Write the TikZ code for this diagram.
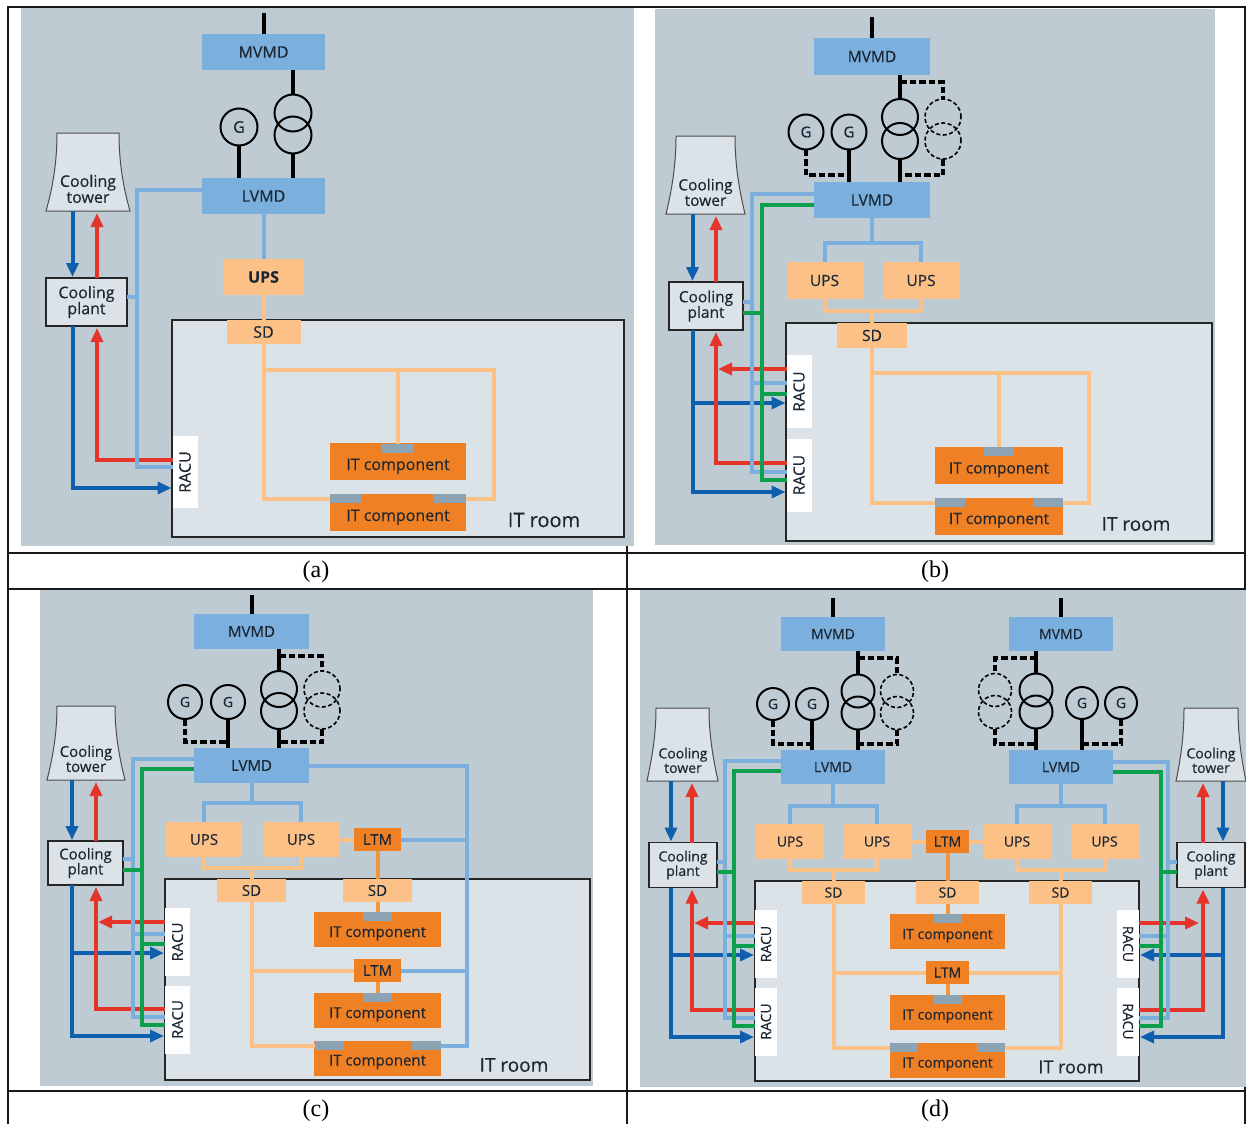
\documentclass[tikz,border=0pt]{standalone}
\usepackage{fontspec}
\usepackage{graphicx}
\setmainfont[FakeBold=0.35]{Open Sans}
\newfontfamily\capfont{Liberation Serif}
\usetikzlibrary{arrows.meta}

\definecolor{panelgrey}{HTML}{BECBD3}
\definecolor{roomgrey}{HTML}{DBE3E9}
\definecolor{busblue}{HTML}{7AAFDE}
\definecolor{upspeach}{HTML}{FBC187}
\definecolor{itorange}{HTML}{F08024}
\definecolor{ltmline}{HTML}{F0963C}
\definecolor{tabgrey}{HTML}{8BA3B3}
\definecolor{coldblue}{HTML}{0F5FAF}
\definecolor{hotred}{HTML}{E5352B}
\definecolor{railgreen}{HTML}{0E9F4D}
\definecolor{inktext}{HTML}{1C2733}

\tikzset{
    rule/.style={line width=2pt, black!90},
    panel/.style={fill=panelgrey},
    room/.style={fill=roomgrey, draw=black!85, line width=1.6pt},
    busbar/.style={fill=busblue},
    upsbox/.style={fill=upspeach},
    sdbox/.style={fill=upspeach},
    ltmbox/.style={fill=itorange},
    itbox/.style={fill=itorange},
    tabbox/.style={fill=tabgrey},
    plantbox/.style={fill=roomgrey, draw=black!85, line width=1.6pt, align=center},
    towerline/.style={fill=roomgrey, draw=black!70, line width=1pt},
    towertext/.style={align=center, anchor=south, minimum width=60pt, inner ysep=8pt},
    racu/.style={fill=white},
    gen/.style={circle, draw=black, line width=2pt, fill=none},
    coil/.style={circle, draw=black, line width=2pt, fill=none},
    sparecoil/.style={circle, draw=black, line width=1.6pt, dash pattern=on 4pt off 2.5pt, fill=none},
    mains/.style={draw=black, line width=4pt},
    standby/.style={draw=black, line width=3.6pt, dash pattern=on 6.5pt off 3pt},
    feed/.style={draw=busblue, line width=4pt},
    power/.style={draw=upspeach, line width=4pt},
    ltmfeed/.style={draw=ltmline, line width=4pt},
    rail/.style={draw=railgreen, line width=4pt},
    cold/.style={draw=coldblue, line width=4pt, -{Triangle[length=14pt,width=12pt]}, shorten >=1pt},
    hot/.style={draw=hotred, line width=3.8pt, -{Triangle[length=14pt,width=12pt]}, shorten >=2pt},
    roomlabel/.style={anchor=center},
    caption/.style={font=\capfont\fontsize{24}{24}\selectfont, text=black},
}

\begin{document}
\begin{tikzpicture}[x=1pt, y=-1pt, every node/.style={inner sep=0pt, outer sep=0pt, text=inktext}]
    \useasboundingbox (0,0) rectangle (1246,1124);

    % Table rules and captions
    \draw[rule] (8,1124) -- (8,7) -- (1245,7) -- (1245,1124);
    \draw[rule] (8,553) -- (1245,553);
    \draw[rule] (8,589) -- (1245,589);
    \draw[rule] (8,1091) -- (1245,1091);
    \draw[rule] (627,7) -- (627,1124);
    \node[caption] (capA) at (316,572) {(a)};
    \node[caption] (capB) at (935,572) {(b)};
    \node[caption] (capC) at (316,1111) {(c)};
    \node[caption] (capD) at (935,1111) {(d)};

    % Panel (a)
    \begin{scope}[every node/.append style={font=\fontsize{16}{16}\selectfont},
        busbar/.append style={minimum width=123pt, minimum height=36pt},
        plantbox/.append style={minimum width=81pt, minimum height=48pt},
        gen/.append style={minimum size=37pt}, coil/.append style={minimum size=37pt},
        racu/.append style={minimum width=25pt, minimum height=72pt},
        itbox/.append style={minimum width=136pt, minimum height=37pt},
        tabbox/.append style={minimum width=32pt, minimum height=9pt}]
    \fill[panel] (21,8) rectangle (634,546);
    \node[room, minimum width=452pt, minimum height=217pt] (roomA) at (398,428.5) {};
    \node[busbar] (mvmdA) at (263.5,52) {MVMD};
    \node[busbar] (lvmdA) at (263.5,196) {LVMD};
    \node[coil] (coilA1) at (293,113) {};
    \node[coil] (coilA2) at (293,135) {};
    \node[gen, font=\fontsize{16}{16}\selectfont] (genA) at (239,127) {G};
    \node[upsbox, minimum width=81pt, minimum height=36pt, font=\fontsize{16}{16}\selectfont\bfseries] (upsA) at (263.5,277) {UPS};
    \node[sdbox, minimum width=74pt, minimum height=24pt] (sdA) at (263.5,332) {SD};
    \node[itbox] (itA1) at (398,461.5) {\raisebox{-8.5pt}[0pt][0pt]{IT component}};
    \node[itbox] (itA2) at (398,512.5) {\raisebox{-8.5pt}[0pt][0pt]{IT component}};
    \node[tabbox] (tabA1) at (398,448) {};
    \node[tabbox] (tabA2) at (346,498.5) {};
    \node[tabbox] (tabA3) at (450,498.5) {};
    \node[racu] (racuA) at (185,472) {\rotatebox{90}{RACU}};
    \node[plantbox] (plantA) at (86.5,302) {Cooling\\plant};
    \draw[towerline] (57,133) -- (119,133) .. controls (119,165) and (124,190) .. (130,211)
        -- (46,211) .. controls (52,190) and (57,165) .. (57,133) -- cycle;
    \node[towertext] (towerA) at (88,211) {Cooling\\tower};
    \node[roomlabel, font=\fontsize{20}{20}\selectfont] (labelA) at (544,520) {IT room};

    \coordinate (coldA) at ([xshift=-14pt]plantA.center);
    \coordinate (hotA) at ([xshift=10.5pt]plantA.center);
    \coordinate (feedA) at (137,190);
    \coordinate (loopA) at (494,370);

    % Supply lines
    \draw[mains] (mvmdA.north) -- ++(0,-21);
    \draw[mains] (mvmdA.south -| coilA1.north) -- (coilA1.north);
    \draw[mains] (coilA2.south) -- (coilA2.south |- lvmdA.north);
    \draw[mains] (genA.south) -- (genA.south |- lvmdA.north);
    \draw[feed] (lvmdA.south) -- (upsA.north);
    \draw[power] (upsA.south) -- (sdA.north);
    \draw[power] (sdA.south) |- (tabA2.west);
    \draw[power] (sdA.south) |- (loopA) |- (tabA3.east);
    \draw[power] (tabA1.north) -- (tabA1.north |- loopA);

    % Cooling loops
    \draw[cold] (coldA |- towerA.south) -- (coldA |- plantA.north);
    \draw[hot] (hotA |- plantA.north) -- (hotA |- towerA.south);
    \draw[cold] (coldA |- plantA.south) |- ([yshift=-16pt]racuA.west);
    \draw[hot] ([yshift=12pt]racuA.west) -| (hotA |- plantA.south);
    \draw[feed] (lvmdA.west |- feedA) -- (feedA) |- ([yshift=5pt]racuA.west);
    \draw[feed] (feedA) |- ([yshift=5pt]plantA.east);
    \end{scope}

    % Panel (b)
    \begin{scope}[every node/.append style={font=\fontsize{15.5}{15.5}\selectfont},
        busbar/.append style={minimum width=116pt, minimum height=36pt},
        plantbox/.append style={minimum width=74pt, minimum height=48pt},
        gen/.append style={minimum size=35pt}, coil/.append style={minimum size=36pt},
        sparecoil/.append style={minimum size=36pt},
        racu/.append style={minimum width=25pt, minimum height=73pt},
        upsbox/.append style={minimum width=76pt, minimum height=37pt},
        itbox/.append style={minimum width=128pt, minimum height=37pt},
        tabbox/.append style={minimum width=30pt, minimum height=9pt}]
    \fill[panel] (655,9) rectangle (1215,545);
    \node[room, minimum width=426pt, minimum height=218pt] (roomB) at (999,432) {};
    \node[busbar] (mvmdB) at (872,56.5) {MVMD};
    \node[busbar] (lvmdB) at (872,200) {LVMD};
    \node[coil] (coilB1) at (900,117) {};
    \node[coil] (coilB2) at (900,141) {};
    \node[sparecoil] (coilB3) at (943,117) {};
    \node[sparecoil] (coilB4) at (943,141) {};
    \node[gen, font=\fontsize{15}{15}\selectfont] (genB1) at (806,132) {G};
    \node[gen, font=\fontsize{15}{15}\selectfont] (genB2) at (849,132) {G};
    \node[upsbox] (upsB1) at (824.5,280.5) {UPS};
    \node[upsbox] (upsB2) at (921,280.5) {UPS};
    \node[sdbox, minimum width=70pt, minimum height=25pt] (sdB) at (872,335.5) {SD};
    \node[itbox] (itB1) at (999,465.5) {\raisebox{-8pt}[0pt][0pt]{IT component}};
    \node[itbox] (itB2) at (999,516) {\raisebox{-8pt}[0pt][0pt]{IT component}};
    \node[tabbox] (tabB1) at (999,451.5) {};
    \node[tabbox] (tabB2) at (950,502.5) {};
    \node[tabbox] (tabB3) at (1048,502.5) {};
    \node[racu] (racuB1) at (799,391.5) {\rotatebox{90}{RACU}};
    \node[racu] (racuB2) at (799,475) {\rotatebox{90}{RACU}};
    \node[plantbox] (plantB) at (706,306) {Cooling\\plant};
    \draw[towerline] (676,136) -- (735,136) .. controls (735,168) and (740,193) .. (745,214)
        -- (666,214) .. controls (671,193) and (676,168) .. (676,136) -- cycle;
    \node[towertext] (towerB) at (705.5,214) {Cooling\\tower};
    \node[roomlabel, font=\fontsize{19}{19}\selectfont] (labelB) at (1136,524) {IT room};

    \coordinate (coldB) at ([xshift=-13.5pt]plantB.center);
    \coordinate (hotB) at ([xshift=10pt]plantB.center);
    \coordinate (feedB) at (752,194);
    \coordinate (railB) at (762,205);
    \coordinate (splitB) at (872,243);
    \coordinate (mergeB) at (872,311);
    \coordinate (topB) at (900,82);
    \coordinate (lowB) at (900,175);
    \coordinate (loopB) at (1089,373);

    % Supply lines
    \draw[mains] (mvmdB.north) -- ++(0,-21);
    \draw[mains] (mvmdB.south -| coilB1.north) -- (coilB1.north);
    \draw[mains] (coilB2.south) -- (coilB2.south |- lvmdB.north);
    \draw[mains] (genB2.south) -- (genB2.south |- lvmdB.north);
    \draw[standby] (topB) -| (coilB3.north);
    \draw[standby] (coilB4.south) |- (lowB);
    \draw[standby] (genB1.south) |- (genB2.south |- lowB);
    \draw[feed] (lvmdB.south) -- (splitB);
    \draw[feed] (splitB) -| (upsB1.north);
    \draw[feed] (splitB) -| (upsB2.north);
    \draw[power] (upsB1.south) |- (mergeB);
    \draw[power] (upsB2.south) |- (mergeB);
    \draw[power] (mergeB) -- (sdB.north);
    \draw[power] (sdB.south) |- (tabB2.west);
    \draw[power] (sdB.south) |- (loopB) |- (tabB3.east);
    \draw[power] (tabB1.north) -- (tabB1.north |- loopB);

    % Cooling loops
    \draw[cold] (coldB |- towerB.south) -- (coldB |- plantB.north);
    \draw[hot] (hotB |- plantB.north) -- (hotB |- towerB.south);
    \draw[cold] (coldB |- plantB.south) |- ([yshift=-17pt]racuB2.west);
    \draw[cold] (coldB |- plantB.south) |- ([yshift=-11.5pt]racuB1.west);
    \draw[hot] ([yshift=12pt]racuB2.west) -| (hotB |- plantB.south);
    \draw[hot] ([yshift=22.5pt]racuB1.west) -- ([yshift=22.5pt]racuB1.west -| hotB);
    \draw[feed] (lvmdB.west |- feedB) -- (feedB) |- ([yshift=3pt]racuB2.west);
    \draw[feed] (feedB) |- ([yshift=8.5pt]racuB1.west);
    \draw[feed] (feedB) |- ([yshift=4pt]plantB.east);
    \draw[rail] (lvmdB.west |- railB) -- (railB) |- ([yshift=-5pt]racuB2.west);
    \draw[rail] (railB) |- ([yshift=-2.5pt]racuB1.west);
    \draw[rail] (railB) |- ([yshift=-7pt]plantB.east);
    \end{scope}

    % Panel (c)
    \begin{scope}[every node/.append style={font=\fontsize{15}{15}\selectfont},
        busbar/.append style={minimum width=115pt, minimum height=35pt},
        plantbox/.append style={minimum width=75pt, minimum height=44pt},
        gen/.append style={minimum size=34pt}, coil/.append style={minimum size=36pt},
        sparecoil/.append style={minimum size=36pt},
        racu/.append style={minimum width=25pt, minimum height=68pt},
        upsbox/.append style={minimum width=76pt, minimum height=35pt},
        sdbox/.append style={minimum width=69pt, minimum height=23pt},
        ltmbox/.append style={minimum width=47pt, minimum height=23pt},
        itbox/.append style={minimum width=127pt, minimum height=35pt},
        tabbox/.append style={minimum width=29pt, minimum height=9pt}]
    \fill[panel] (40,590) rectangle (593,1086);
    \node[room, minimum width=425pt, minimum height=201pt] (roomC) at (377.5,979.5) {};
    \node[busbar] (mvmdC) at (251.5,631.5) {MVMD};
    \node[busbar] (lvmdC) at (251.5,765.5) {LVMD};
    \node[coil] (coilC1) at (279,689) {};
    \node[coil] (coilC2) at (279,711) {};
    \node[sparecoil] (coilC3) at (322,689) {};
    \node[sparecoil] (coilC4) at (322,711) {};
    \node[gen, font=\fontsize{14}{14}\selectfont] (genC1) at (185,702) {G};
    \node[gen, font=\fontsize{14}{14}\selectfont] (genC2) at (228,702) {G};
    \node[upsbox] (upsC1) at (204,839.5) {UPS};
    \node[upsbox] (upsC2) at (301,839.5) {UPS};
    \node[ltmbox] (ltmC1) at (377.5,839.5) {LTM};
    \node[ltmbox] (ltmC2) at (377.5,970.5) {LTM};
    \node[sdbox] (sdC1) at (251.5,890.5) {SD};
    \node[sdbox] (sdC2) at (377.5,890.5) {SD};
    \node[itbox] (itC1) at (377.5,929.5) {\raisebox{-7.5pt}[0pt][0pt]{IT component}};
    \node[itbox] (itC2) at (377.5,1010.5) {\raisebox{-7.5pt}[0pt][0pt]{IT component}};
    \node[itbox] (itC3) at (377.5,1058) {\raisebox{-7.5pt}[0pt][0pt]{IT component}};
    \node[tabbox] (tabC1) at (377.5,916.5) {};
    \node[tabbox] (tabC2) at (377.5,997.5) {};
    \node[tabbox] (tabC3) at (329,1045.5) {};
    \node[tabbox] (tabC4) at (426,1045.5) {};
    \node[racu] (racuC1) at (177.5,942) {\rotatebox{90}{RACU}};
    \node[racu] (racuC2) at (177.5,1019.5) {\rotatebox{90}{RACU}};
    \node[plantbox] (plantC) at (85.5,863) {Cooling\\plant};
    \draw[towerline] (57,706) -- (115,706) .. controls (115,736) and (120,760) .. (125,780)
        -- (47,780) .. controls (52,760) and (57,736) .. (57,706) -- cycle;
    \node[towertext] (towerC) at (86,780) {Cooling\\tower};
    \node[roomlabel, font=\fontsize{19}{19}\selectfont] (labelC) at (514,1065) {IT room};

    \coordinate (coldC) at ([xshift=-13.5pt]plantC.center);
    \coordinate (hotC) at ([xshift=10.5pt]plantC.center);
    \coordinate (feedC) at (133,759);
    \coordinate (railC) at (142,769);
    \coordinate (riserC) at (467,765.5);
    \coordinate (splitC) at (251.5,803);
    \coordinate (mergeC) at (251.5,868);
    \coordinate (topC) at (279,656);
    \coordinate (lowC) at (279,742);

    % Supply lines
    \draw[mains] (mvmdC.north) -- ++(0,-19);
    \draw[mains] (mvmdC.south -| coilC1.north) -- (coilC1.north);
    \draw[mains] (coilC2.south) -- (coilC2.south |- lvmdC.north);
    \draw[mains] (genC2.south) -- (genC2.south |- lvmdC.north);
    \draw[standby] (topC) -| (coilC3.north);
    \draw[standby] (coilC4.south) |- (lowC);
    \draw[standby] (genC1.south) |- (genC2.south |- lowC);
    \draw[feed] (lvmdC.south) -- (splitC);
    \draw[feed] (splitC) -| (upsC1.north);
    \draw[feed] (splitC) -| (upsC2.north);
    \draw[power] (upsC1.south) |- (mergeC);
    \draw[power] (upsC2.south) |- (mergeC);
    \draw[power] (mergeC) -- (sdC1.north);
    \draw[power] (upsC2.east) -- (ltmC1.west);
    \draw[ltmfeed] (ltmC1.south) -- (sdC2.north);
    \draw[ltmfeed] (sdC2.south) -- (tabC1.north);
    \draw[ltmfeed] (ltmC2.south) -- (tabC2.north);
    \draw[power] (sdC1.south) |- (ltmC2.west);
    \draw[power] (sdC1.south) |- (tabC3.west);
    \draw[feed] (lvmdC.east) -- (riserC) |- (tabC4.east);
    \draw[feed] (riserC) |- (ltmC1.east);
    \draw[feed] (riserC) |- (ltmC2.east);

    % Cooling loops
    \draw[cold] (coldC |- towerC.south) -- (coldC |- plantC.north);
    \draw[hot] (hotC |- plantC.north) -- (hotC |- towerC.south);
    \draw[cold] (coldC |- plantC.south) |- ([yshift=-16.5pt]racuC2.west);
    \draw[cold] (coldC |- plantC.south) |- ([yshift=-11pt]racuC1.west);
    \draw[hot] ([yshift=10.5pt]racuC2.west) -| (hotC |- plantC.south);
    \draw[hot] ([yshift=20pt]racuC1.west) -- ([yshift=20pt]racuC1.west -| hotC);
    \draw[feed] (lvmdC.west |- feedC) -- (feedC) |- ([yshift=2.5pt]racuC2.west);
    \draw[feed] (feedC) |- ([yshift=8pt]racuC1.west);
    \draw[feed] (feedC) |- ([yshift=4pt]plantC.east);
    \draw[rail] (lvmdC.west |- railC) -- (railC) |- ([yshift=-5.5pt]racuC2.west);
    \draw[rail] (railC) |- ([yshift=-2pt]racuC1.west);
    \draw[rail] (railC) |- ([yshift=-7pt]plantC.east);
    \end{scope}

    % Panel (d)
    \begin{scope}[every node/.append style={font=\fontsize{14}{14.5}\selectfont},
        busbar/.append style={minimum width=104pt, minimum height=34pt},
        plantbox/.append style={minimum width=68pt, minimum height=45pt},
        gen/.append style={minimum size=32pt}, coil/.append style={minimum size=33pt},
        sparecoil/.append style={minimum size=33pt},
        racu/.append style={minimum width=22pt, minimum height=68pt},
        upsbox/.append style={minimum width=68pt, minimum height=35pt},
        sdbox/.append style={minimum width=63pt, minimum height=23pt},
        ltmbox/.append style={minimum width=43pt, minimum height=23pt},
        itbox/.append style={minimum width=115pt, minimum height=35pt},
        tabbox/.append style={minimum width=28pt, minimum height=9pt}]
    \fill[panel] (640,590) rectangle (1246,1087);
    \node[room, minimum width=384pt, minimum height=200pt] (roomD) at (947,981) {};
    \node[busbar] (mvmdD1) at (833,634) {MVMD};
    \node[busbar] (lvmdD1) at (833,767) {LVMD};
    \node[busbar] (mvmdD2) at (1061,634) {MVMD};
    \node[busbar] (lvmdD2) at (1061,767) {LVMD};
    \node[coil] (coilD1) at (858,691) {};
    \node[coil] (coilD2) at (858,713) {};
    \node[sparecoil] (coilD3) at (897,691) {};
    \node[sparecoil] (coilD4) at (897,713) {};
    \node[coil] (coilD5) at (1036,690) {};
    \node[coil] (coilD6) at (1036,712) {};
    \node[sparecoil] (coilD7) at (995,690) {};
    \node[sparecoil] (coilD8) at (995,712) {};
    \node[gen, font=\fontsize{14}{14}\selectfont] (genD1) at (773,704) {G};
    \node[gen, font=\fontsize{14}{14}\selectfont] (genD2) at (812,704) {G};
    \node[gen, font=\fontsize{14}{14}\selectfont] (genD3) at (1082,703) {G};
    \node[gen, font=\fontsize{14}{14}\selectfont] (genD4) at (1121,703) {G};
    \node[upsbox] (upsD1) at (790,841.5) {UPS};
    \node[upsbox] (upsD2) at (877,841.5) {UPS};
    \node[upsbox] (upsD3) at (1017,841.5) {UPS};
    \node[upsbox] (upsD4) at (1104.5,841.5) {UPS};
    \node[ltmbox] (ltmD1) at (947.5,841.5) {LTM};
    \node[ltmbox] (ltmD2) at (947.5,972.5) {LTM};
    \node[sdbox] (sdD1) at (833.5,892.5) {SD};
    \node[sdbox] (sdD2) at (947.5,892.5) {SD};
    \node[sdbox] (sdD3) at (1060.5,892.5) {SD};
    \node[itbox] (itD1) at (947.5,931.5) {\raisebox{-7.5pt}[0pt][0pt]{IT component}};
    \node[itbox] (itD2) at (947.5,1012) {\raisebox{-7.5pt}[0pt][0pt]{IT component}};
    \node[itbox] (itD3) at (947.5,1060) {\raisebox{-7.5pt}[0pt][0pt]{IT component}};
    \node[tabbox] (tabD1) at (947.5,918.5) {};
    \node[tabbox] (tabD2) at (947.5,999.5) {};
    \node[tabbox] (tabD3) at (904,1047.5) {};
    \node[tabbox] (tabD4) at (991,1047.5) {};
    \node[racu] (racuD1) at (766,944) {\rotatebox{90}{RACU}};
    \node[racu] (racuD2) at (766,1021.5) {\rotatebox{90}{RACU}};
    \node[racu] (racuD3) at (1128,944) {\rotatebox{-90}{RACU}};
    \node[racu] (racuD4) at (1128,1021.5) {\rotatebox{-90}{RACU}};
    \node[plantbox] (plantD1) at (683,865) {Cooling\\plant};
    \node[plantbox] (plantD2) at (1211,865) {Cooling\\plant};
    \draw[towerline] (656,708) -- (709,708) .. controls (709,738) and (714,762) .. (718,781)
        -- (647,781) .. controls (651,762) and (656,738) .. (656,708) -- cycle;
    \node[towertext] (towerD1) at (683,781) {Cooling\\tower};
    \draw[towerline] (1184,708) -- (1238,708) .. controls (1238,738) and (1242,762) .. (1246,781)
        -- (1176,781) .. controls (1180,762) and (1184,738) .. (1184,708) -- cycle;
    \node[towertext] (towerD2) at (1211,781) {Cooling\\tower};
    \node[roomlabel, font=\fontsize{18}{18}\selectfont] (labelD) at (1071,1067) {IT room};

    \coordinate (coldD1) at ([xshift=-12pt]plantD1.center);
    \coordinate (hotD1) at ([xshift=9pt]plantD1.center);
    \coordinate (coldD2) at ([xshift=12pt]plantD2.center);
    \coordinate (hotD2) at ([xshift=-8pt]plantD2.center);
    \coordinate (feedD1) at (725,761);
    \coordinate (railD1) at (734,771);
    \coordinate (feedD2) at (1168,762);
    \coordinate (railD2) at (1161,772);
    \coordinate (splitD1) at (833,806);
    \coordinate (mergeD1) at (833.5,870);
    \coordinate (splitD2) at (1061,806);
    \coordinate (mergeD2) at (1060.5,870);
    \coordinate (topD1) at (858,658);
    \coordinate (lowD1) at (858,744);
    \coordinate (topD2) at (1036,658);
    \coordinate (lowD2) at (1036,744);

    % Supply lines
    \draw[mains] (mvmdD1.north) -- ++(0,-19);
    \draw[mains] (mvmdD2.north) -- ++(0,-19);
    \draw[mains] (mvmdD1.south -| coilD1.north) -- (coilD1.north);
    \draw[mains] (coilD2.south) -- (coilD2.south |- lvmdD1.north);
    \draw[mains] (genD2.south) -- (genD2.south |- lvmdD1.north);
    \draw[mains] (mvmdD2.south -| coilD5.north) -- (coilD5.north);
    \draw[mains] (coilD6.south) -- (coilD6.south |- lvmdD2.north);
    \draw[mains] (genD3.south) -- (genD3.south |- lvmdD2.north);
    \draw[standby] (topD1) -| (coilD3.north);
    \draw[standby] (coilD4.south) |- (lowD1);
    \draw[standby] (genD1.south) |- (genD2.south |- lowD1);
    \draw[standby] (topD2) -| (coilD7.north);
    \draw[standby] (coilD8.south) |- (lowD2);
    \draw[standby] (genD4.south) |- (genD3.south |- lowD2);
    \draw[feed] (lvmdD1.south) -- (splitD1);
    \draw[feed] (splitD1) -| (upsD1.north);
    \draw[feed] (splitD1) -| (upsD2.north);
    \draw[feed] (lvmdD2.south) -- (splitD2);
    \draw[feed] (splitD2) -| (upsD3.north);
    \draw[feed] (splitD2) -| (upsD4.north);
    \draw[power] (upsD1.south) |- (mergeD1);
    \draw[power] (upsD2.south) |- (mergeD1);
    \draw[power] (mergeD1) -- (sdD1.north);
    \draw[power] (upsD3.south) |- (mergeD2);
    \draw[power] (upsD4.south) |- (mergeD2);
    \draw[power] (mergeD2) -- (sdD3.north);
    \draw[power] (upsD2.east) -- (ltmD1.west);
    \draw[power] (upsD3.west) -- (ltmD1.east);
    \draw[ltmfeed] (ltmD1.south) -- (sdD2.north);
    \draw[ltmfeed] (sdD2.south) -- (tabD1.north);
    \draw[ltmfeed] (ltmD2.south) -- (tabD2.north);
    \draw[power] (sdD1.south) |- (ltmD2.west);
    \draw[power] (sdD1.south) |- (tabD3.west);
    \draw[power] (sdD3.south) |- (ltmD2.east);
    \draw[power] (sdD3.south) |- (tabD4.east);

    % Cooling loops, left side
    \draw[cold] (coldD1 |- towerD1.south) -- (coldD1 |- plantD1.north);
    \draw[hot] (hotD1 |- plantD1.north) -- (hotD1 |- towerD1.south);
    \draw[cold] (coldD1 |- plantD1.south) |- ([yshift=-15.5pt]racuD2.west);
    \draw[cold] (coldD1 |- plantD1.south) |- ([yshift=-11pt]racuD1.west);
    \draw[hot] ([yshift=11.5pt]racuD2.west) -| (hotD1 |- plantD1.south);
    \draw[hot] ([yshift=21pt]racuD1.west) -- ([yshift=21pt]racuD1.west -| hotD1);
    \draw[feed] (lvmdD1.west |- feedD1) -- (feedD1) |- ([yshift=3.5pt]racuD2.west);
    \draw[feed] (feedD1) |- ([yshift=8pt]racuD1.west);
    \draw[feed] (feedD1) |- ([yshift=3pt]plantD1.east);
    \draw[rail] (lvmdD1.west |- railD1) -- (railD1) |- ([yshift=-4.5pt]racuD2.west);
    \draw[rail] (railD1) |- ([yshift=-2pt]racuD1.west);
    \draw[rail] (railD1) |- ([yshift=-7pt]plantD1.east);

    % Cooling loops, right side
    \draw[cold] (coldD2 |- towerD2.south) -- (coldD2 |- plantD2.north);
    \draw[hot] (hotD2 |- plantD2.north) -- (hotD2 |- towerD2.south);
    \draw[cold] (coldD2 |- plantD2.south) |- ([yshift=-15.5pt]racuD4.east);
    \draw[cold] (coldD2 |- plantD2.south) |- ([yshift=-11pt]racuD3.east);
    \draw[hot] ([yshift=11.5pt]racuD4.east) -| (hotD2 |- plantD2.south);
    \draw[hot, shorten >=4pt] ([yshift=21pt]racuD3.east) -- ([yshift=21pt]racuD3.east -| hotD2);
    \draw[feed] (lvmdD2.east |- feedD2) -- (feedD2) |- ([yshift=3.5pt]racuD4.east);
    \draw[feed] (feedD2) |- ([yshift=8pt]racuD3.east);
    \draw[feed] (feedD2) |- ([yshift=3pt]plantD2.west);
    \draw[rail] (lvmdD2.east |- railD2) -- (railD2) |- ([yshift=-4.5pt]racuD4.east);
    \draw[rail] (railD2) |- ([yshift=-2pt]racuD3.east);
    \draw[rail] (railD2) |- ([yshift=-7pt]plantD2.west);
    \end{scope}

\end{tikzpicture}
\end{document}
